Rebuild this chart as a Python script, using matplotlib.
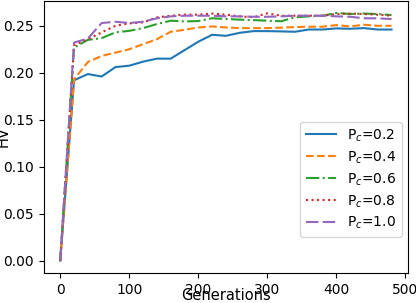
import matplotlib
matplotlib.use("Agg")
import matplotlib.pyplot as plt

# HV per generation for each crossover probability
generations = list(range(0, 500, 20))

hv_02 = [0.0, 0.192, 0.1986, 0.196, 0.206, 0.2075, 0.2118, 0.215, 0.215,
         0.224, 0.233, 0.2404, 0.2393, 0.2425, 0.2443, 0.2443, 0.244, 0.2436,
         0.246, 0.246, 0.2472, 0.2468, 0.2475, 0.246, 0.246]
hv_04 = [0.0, 0.193, 0.2114, 0.2179, 0.2214, 0.225, 0.2304, 0.2357, 0.2436,
         0.2457, 0.2482, 0.2493, 0.2482, 0.2475, 0.2475, 0.2475, 0.248, 0.2486,
         0.249, 0.249, 0.2507, 0.2493, 0.2511, 0.25, 0.25]
hv_06 = [0.0, 0.2268, 0.235, 0.2368, 0.243, 0.2446, 0.2475, 0.2518, 0.2554,
         0.2546, 0.255, 0.258, 0.2572, 0.2565, 0.256, 0.2554, 0.2548, 0.2589,
         0.26, 0.2607, 0.2636, 0.2625, 0.263, 0.2625, 0.2614]
hv_08 = [0.0, 0.2293, 0.2357, 0.2429, 0.25, 0.2525, 0.2536, 0.2589, 0.2607,
         0.2618, 0.2618, 0.263, 0.2618, 0.26, 0.259, 0.2632, 0.2607, 0.2607,
         0.2607, 0.2607, 0.2625, 0.263, 0.2625, 0.2618, 0.2607]
hv_10 = [0.0, 0.2321, 0.2364, 0.2529, 0.2543, 0.2529, 0.2543, 0.2579, 0.26,
         0.2607, 0.2607, 0.2607, 0.26, 0.26, 0.2596, 0.2596, 0.26, 0.2607,
         0.2607, 0.2607, 0.26, 0.2596, 0.258, 0.2579, 0.2572]

labels = ["P$_c$=0.2", "P$_c$=0.4", "P$_c$=0.6", "P$_c$=0.8", "P$_c$=1.0"]

fig = plt.figure(figsize=(4.16, 3.03), dpi=100)
ax = fig.add_axes([0.105, 0.099, 0.876, 0.899])

styles = ["-", "--", "-.", ":", (0, (6, 2))]
series = [hv_02, hv_04, hv_06, hv_08, hv_10]
for ys, ls, lab in zip(series, styles, labels):
    ax.plot(generations, ys, linestyle=ls, lw=1.5, label=lab)

ax.tick_params(labelsize=10)
ax.set_xticks([0, 100, 200, 300, 400, 500])
ax.set_yticks([0.0, 0.05, 0.10, 0.15, 0.20, 0.25])
ax.set_xlabel("Generations", fontsize=10.5, labelpad=-6.5)
ax.set_ylabel("HV", fontsize=10.5, labelpad=-5.5)

ax.legend(loc="lower right", bbox_to_anchor=(0.9835, 0.132),
          borderaxespad=0, fontsize=10, labelspacing=0.4, handlelength=2.2)

fig.savefig("out.png", dpi=100)
